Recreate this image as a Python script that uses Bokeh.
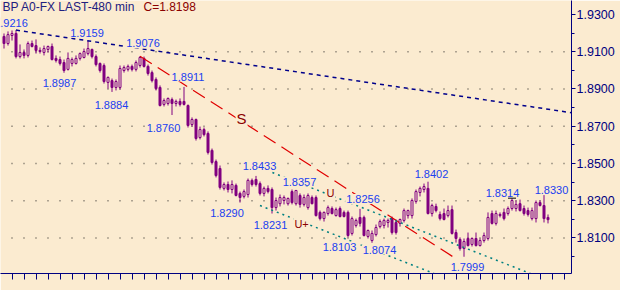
from bokeh.plotting import figure
from bokeh.models import Range1d, LinearAxis, FixedTicker, PrintfTickFormatter, Label
from bokeh.embed import file_html
from bokeh.resources import INLINE

# ---------------- data ----------------
opens = [1.9182, 1.9144, 1.9187, 1.9198, 1.9074, 1.9096, 1.9080, 1.9144, 1.9133, 1.9107,
         1.9096, 1.9112, 1.9128, 1.9064, 1.9058, 1.9042, 1.9005, 1.9037, 1.9037, 1.9064,
         1.9069, 1.9090, 1.9112, 1.9074, 1.9037, 1.9026, 1.8935, 1.8945, 1.8908, 1.8908,
         1.8999, 1.9005, 1.9021, 1.9005, 1.9026, 1.9064, 1.9021, 1.8988, 1.8951, 1.8908,
         1.8817, 1.8822, 1.8843, 1.8822, 1.8833, 1.8833, 1.8811, 1.8709, 1.8736, 1.8639,
         1.8682, 1.8661, 1.8570, 1.8510, 1.8473, 1.8366, 1.8387, 1.8360, 1.8382, 1.8339,
         1.8323, 1.8333, 1.8409, 1.8414, 1.8392, 1.8339, 1.8366, 1.8360, 1.8263, 1.8284,
         1.8301, 1.8284, 1.8349, 1.8284, 1.8328, 1.8280, 1.8263, 1.8317, 1.8317, 1.8237,
         1.8204, 1.8231, 1.8258, 1.8220, 1.8258, 1.8237, 1.8237, 1.8124, 1.8167, 1.8210,
         1.8210, 1.8108, 1.8086, 1.8118, 1.8161, 1.8167, 1.8183, 1.8204, 1.8183, 1.8178,
         1.8194, 1.8220, 1.8220, 1.8296, 1.8344, 1.8360, 1.8366, 1.8231, 1.8269, 1.8226,
         1.8231, 1.8220, 1.8252, 1.8129, 1.8092, 1.8043, 1.8097, 1.8065, 1.8097, 1.8059,
         1.8086, 1.8097, 1.8231, 1.8178, 1.8220, 1.8237, 1.8231, 1.8258, 1.8258, 1.8284,
         1.8258, 1.8247, 1.8204, 1.8204, 1.8290, 1.8274, 1.8210]
highs = [1.9198, 1.9209, 1.9214, 1.9216, 1.9139, 1.9112, 1.9155, 1.9160, 1.9166, 1.9123,
         1.9133, 1.9133, 1.9144, 1.9080, 1.9074, 1.9058, 1.9096, 1.9069, 1.9080, 1.9096,
         1.9117, 1.9159, 1.9117, 1.9085, 1.9042, 1.9037, 1.8967, 1.8956, 1.8951, 1.9026,
         1.9026, 1.9031, 1.9031, 1.9053, 1.9076, 1.9074, 1.9031, 1.8999, 1.8962, 1.8919,
         1.8849, 1.8854, 1.8854, 1.8843, 1.8849, 1.8911, 1.8817, 1.8747, 1.8741, 1.8698,
         1.8693, 1.8672, 1.8580, 1.8521, 1.8489, 1.8398, 1.8403, 1.8409, 1.8392, 1.8349,
         1.8360, 1.8419, 1.8419, 1.8433, 1.8403, 1.8376, 1.8382, 1.8371, 1.8317, 1.8333,
         1.8328, 1.8317, 1.8360, 1.8357, 1.8339, 1.8333, 1.8339, 1.8328, 1.8328, 1.8247,
         1.8242, 1.8274, 1.8269, 1.8263, 1.8269, 1.8247, 1.8247, 1.8215, 1.8204, 1.8256,
         1.8220, 1.8145, 1.8140, 1.8172, 1.8199, 1.8204, 1.8204, 1.8215, 1.8199, 1.8204,
         1.8258, 1.8252, 1.8312, 1.8360, 1.8376, 1.8392, 1.8402, 1.8284, 1.8284, 1.8242,
         1.8258, 1.8274, 1.8274, 1.8145, 1.8103, 1.8097, 1.8129, 1.8103, 1.8129, 1.8097,
         1.8129, 1.8237, 1.8247, 1.8247, 1.8237, 1.8258, 1.8269, 1.8314, 1.8301, 1.8306,
         1.8274, 1.8263, 1.8263, 1.8301, 1.8301, 1.8330, 1.8226]
lows = [1.9117, 1.9133, 1.9160, 1.9064, 1.9064, 1.9064, 1.9069, 1.9123, 1.9090, 1.9090,
        1.9080, 1.9096, 1.9053, 1.9042, 1.9026, 1.8987, 1.8999, 1.9021, 1.9031, 1.9053,
        1.9064, 1.9080, 1.9064, 1.9021, 1.8988, 1.8929, 1.8902, 1.8884, 1.8892, 1.8897,
        1.8988, 1.8994, 1.8994, 1.8994, 1.9015, 1.9015, 1.8972, 1.8935, 1.8892, 1.8806,
        1.8806, 1.8811, 1.8760, 1.8806, 1.8806, 1.8811, 1.8693, 1.8698, 1.8623, 1.8629,
        1.8645, 1.8548, 1.8494, 1.8425, 1.8360, 1.8355, 1.8344, 1.8339, 1.8323, 1.8290,
        1.8312, 1.8317, 1.8376, 1.8376, 1.8328, 1.8323, 1.8339, 1.8231, 1.8247, 1.8269,
        1.8280, 1.8274, 1.8280, 1.8274, 1.8263, 1.8269, 1.8252, 1.8280, 1.8215, 1.8194,
        1.8188, 1.8220, 1.8226, 1.8215, 1.8210, 1.8210, 1.8103, 1.8113, 1.8156, 1.8161,
        1.8108, 1.8097, 1.8074, 1.8108, 1.8151, 1.8151, 1.8156, 1.8118, 1.8118, 1.8161,
        1.8183, 1.8204, 1.8204, 1.8284, 1.8323, 1.8344, 1.8226, 1.8215, 1.8237, 1.8194,
        1.8194, 1.8210, 1.8118, 1.8075, 1.8032, 1.7999, 1.8054, 1.8054, 1.8054, 1.8054,
        1.8075, 1.8086, 1.8172, 1.8167, 1.8210, 1.8194, 1.8220, 1.8247, 1.8242, 1.8242,
        1.8220, 1.8215, 1.8194, 1.8183, 1.8269, 1.8183, 1.8178]
closes = [1.9144, 1.9192, 1.9198, 1.9074, 1.9096, 1.9080, 1.9144, 1.9128, 1.9107, 1.9101,
          1.9117, 1.9128, 1.9058, 1.9053, 1.9037, 1.8999, 1.9064, 1.9058, 1.9064, 1.9090,
          1.9101, 1.9117, 1.9074, 1.9031, 1.8999, 1.8940, 1.8962, 1.8908, 1.8940, 1.9010,
          1.9015, 1.9021, 1.9005, 1.9042, 1.9069, 1.9021, 1.8983, 1.8945, 1.8902, 1.8811,
          1.8838, 1.8849, 1.8822, 1.8833, 1.8817, 1.8817, 1.8704, 1.8736, 1.8634, 1.8682,
          1.8655, 1.8559, 1.8505, 1.8435, 1.8371, 1.8387, 1.8360, 1.8387, 1.8328, 1.8317,
          1.8349, 1.8409, 1.8387, 1.8387, 1.8339, 1.8366, 1.8349, 1.8263, 1.8301, 1.8317,
          1.8317, 1.8312, 1.8290, 1.8355, 1.8280, 1.8317, 1.8328, 1.8284, 1.8220, 1.8204,
          1.8237, 1.8263, 1.8231, 1.8252, 1.8215, 1.8215, 1.8113, 1.8204, 1.8194, 1.8178,
          1.8113, 1.8140, 1.8124, 1.8156, 1.8188, 1.8194, 1.8194, 1.8129, 1.8129, 1.8199,
          1.8247, 1.8247, 1.8301, 1.8349, 1.8366, 1.8376, 1.8231, 1.8274, 1.8247, 1.8204,
          1.8199, 1.8247, 1.8124, 1.8097, 1.8043, 1.8081, 1.8059, 1.8097, 1.8059, 1.8086,
          1.8113, 1.8210, 1.8178, 1.8231, 1.8226, 1.8204, 1.8258, 1.8301, 1.8280, 1.8247,
          1.8231, 1.8226, 1.8247, 1.8290, 1.8274, 1.8204, 1.8198]

# annotated extremes
ann_idx = [3, 21, 15, 27, 34, 45, 42, 63, 59, 73, 67, 89, 86, 92, 106, 115, 127, 135]
ann_price = [1.9216, 1.9159, 1.8987, 1.8884, 1.9076, 1.8911, 1.8760, 1.8433, 1.8290,
             1.8357, 1.8231, 1.8256, 1.8103, 1.8074, 1.8402, 1.7999, 1.8314, 1.8330]

# trend lines (bar index, price)
navy_x, navy_y = [3, 142], [1.9216, 1.8772]
red_x, red_y = [34, 113.1], [1.9076, 1.7987]
teal_up_x, teal_up_y = [67.1, 131.6], [1.8451, 1.7909]
teal_lo_x, teal_lo_y = [64, 107.5], [1.8274, 1.7909]

price_ticks = [1.81, 1.83, 1.85, 1.87, 1.89, 1.91, 1.93]
price_minor = [1.80, 1.82, 1.84, 1.86, 1.88, 1.90, 1.92]
grid_levels = [1.81, 1.83, 1.85, 1.87, 1.89, 1.91]

title_text = "BP A0-FX LAST-480 min"
close_text = "C=1.8198"

# ---------------- styles ----------------
BG = "#FBEBD0"
PURPLE = "#800080"
NAVY = "#000080"
BLUE = "#2040F0"
DARKRED = "#8B0000"
FONT = "Liberation Sans"

ann_dx = [-5, -1, -4.5, -0.5, 3, 4, -8.5, 3.5, -13, 3.5, -1.5, 3, -8.5, 7.5, 3.5, 3.5, -9.5, 7.5]
ann_dy = [7.6, 8, -10, -12.6, 12.7, 10.4, -12.5, 10.3, -10, 8.5, -11, 9.8, -9.2, -6.8, 8, -10, 5.5, 5.6]

letters = ["S", "U", "U+"]
letter_x = [59.4, 81.6, 74.4]
letter_y = [1.8741, 1.8339, 1.8177]
letter_size = ["15px", "11px", "11px"]

n = len(opens)
idx = list(range(n))
xticks = list(range(2, 141, 3))

p = figure(width=620, height=290, x_range=Range1d(-0.875, 141.875),
           y_range=Range1d(1.7909, 1.9375), x_axis_type=None, y_axis_type=None,
           toolbar_location=None, output_backend="svg",
           min_border=0, min_border_left=0, min_border_top=0,
           min_border_right=49, min_border_bottom=17)
p.background_fill_color = BG
p.border_fill_color = BG
p.outline_line_color = None
p.xgrid.visible = False
p.ygrid.visible = False

# dotted grid at tick intersections
gx, gy = [], []
for lv in grid_levels:
    for t in xticks:
        gx.append(t)
        gy.append(lv)
p.scatter(gx, gy, marker="square", size=1.6, color="#9A9080", line_width=0)

# candles
bx = [i for i in idx if closes[i] >= opens[i]]
rx = [i for i in idx if closes[i] < opens[i]]
p.segment(x0=idx, y0=lows, x1=idx, y1=highs, line_color=PURPLE, line_width=1)
p.vbar(x=rx, width=0.5, top=[opens[i] for i in rx], bottom=[closes[i] for i in rx],
       fill_color=PURPLE, line_color=PURPLE, line_width=1)
p.vbar(x=bx, width=0.5, top=[closes[i] for i in bx], bottom=[opens[i] for i in bx],
       fill_color=BG, line_color=PURPLE, line_width=1)

# trend lines
p.line(navy_x, navy_y, line_color="#00008B", line_width=1.5, line_dash="4 4")
p.line(red_x, red_y, line_color="#E00000", line_width=1.2, line_dash="14 7")
p.line(teal_up_x, teal_up_y, line_color="#008080", line_width=1.5, line_dash="2 4")
p.line(teal_lo_x, teal_lo_y, line_color="#008080", line_width=1.5, line_dash="2 4")
p.scatter([127], [1.8314], marker="dash", size=8, line_color="#202020", line_width=1.5)

# axes
ax_r = LinearAxis(ticker=FixedTicker(ticks=price_ticks, minor_ticks=price_minor),
                  formatter=PrintfTickFormatter(format="%.4f"))
ax_r.axis_line_color = NAVY
ax_r.major_tick_line_color = NAVY
ax_r.minor_tick_line_color = NAVY
ax_r.major_tick_in = 0
ax_r.major_tick_out = 4
ax_r.minor_tick_in = 0
ax_r.minor_tick_out = 3
ax_r.major_label_standoff = 1
ax_r.major_label_text_font = FONT
ax_r.major_label_text_font_size = "12.5px"
ax_r.major_label_text_color = NAVY
p.add_layout(ax_r, "right")

ax_b = LinearAxis(ticker=FixedTicker(ticks=xticks, minor_ticks=[]))
ax_b.axis_line_color = NAVY
ax_b.major_tick_line_color = NAVY
ax_b.major_tick_in = 0
ax_b.major_tick_out = 6
ax_b.minor_tick_out = 0
ax_b.major_label_text_font_size = "1px"
ax_b.major_label_text_color = None
ax_b.major_label_standoff = 0
p.add_layout(ax_b, "below")

# price labels
for i, pr, dx, dy in zip(ann_idx, ann_price, ann_dx, ann_dy):
    p.add_layout(Label(x=i, y=pr, x_offset=dx, y_offset=dy, text=f"{pr:.4f}",
                       text_align="center", text_baseline="middle",
                       text_font=FONT, text_font_size="11px", text_color=BLUE,
                       background_fill_color=BG, background_fill_alpha=1.0, padding=1))

for t, x, y, fs in zip(letters, letter_x, letter_y, letter_size):
    p.add_layout(Label(x=x, y=y, text=t, text_align="center", text_baseline="middle",
                       text_font=FONT, text_font_size=fs, text_color=DARKRED,
                       background_fill_color=BG, background_fill_alpha=1.0, padding=1))

# title
p.add_layout(Label(x=2, y=267, x_units="screen", y_units="screen", text=title_text,
                   text_align="left", text_baseline="middle", text_font=FONT,
                   text_font_size="12px", text_color="#202080"))
p.add_layout(Label(x=143, y=267, x_units="screen", y_units="screen", text=close_text,
                   text_align="left", text_baseline="middle", text_font=FONT,
                   text_font_size="12px", text_color=DARKRED))

open("out.html", "w").write(file_html(p, INLINE))
